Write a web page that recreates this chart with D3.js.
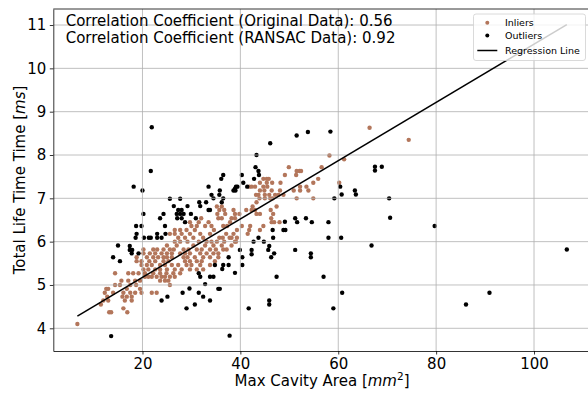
<!DOCTYPE html>
<html>
<head>
<meta charset="utf-8">
<script src="https://cdn.jsdelivr.net/npm/d3@7"></script>
<style>
  body { margin: 0; background: #fff; }
  svg text { font-family: "DejaVu Sans", sans-serif; }
</style>
</head>
<body>
<svg width="588" height="395"></svg>
<script>
// RANSAC inliers [max cavity area, total life time]
const inliers = [
  [6.7, 4.10],
  [13.2, 4.37], [13.6, 4.37], [16.9, 4.37],
  [16.1, 4.46],
  [11.5, 4.55],
  [12.0, 4.64], [13.0, 4.64], [16.4, 4.64], [17.8, 4.64],
  [12.8, 4.73], [15.9, 4.73], [16.8, 4.73], [17.8, 4.73],
  [12.3, 4.82], [14.0, 4.82], [16.1, 4.82], [17.5, 4.82], [18.5, 4.82], [19.8, 4.82], [21.9, 4.82], [22.9, 4.82],
  [12.6, 4.91], [13.0, 4.91], [16.8, 4.91], [19.5, 4.91],
  [14.4, 5.00], [15.4, 5.00], [17.5, 5.00], [18.7, 5.00], [25.6, 5.00],
  [15.7, 5.10], [17.1, 5.10], [18.5, 5.10], [19.5, 5.10], [23.6, 5.10], [24.6, 5.10], [25.3, 5.10],
  [20.5, 5.19], [21.2, 5.19], [21.9, 5.19], [22.9, 5.19], [23.9, 5.19], [24.6, 5.19], [25.6, 5.19], [26.6, 5.19],
  [14.4, 5.27], [17.1, 5.27], [18.1, 5.27], [19.2, 5.27], [20.5, 5.27], [22.2, 5.27], [23.6, 5.27], [24.9, 5.27], [26.3, 5.27], [27.7, 5.27],
  [20.2, 5.36], [21.2, 5.36], [22.6, 5.36], [23.6, 5.36], [25.0, 5.36], [26.6, 5.36], [28.0, 5.36], [29.7, 5.36], [31.1, 5.36], [32.4, 5.36],
  [19.8, 5.46], [20.9, 5.46], [21.9, 5.46], [23.6, 5.46], [24.6, 5.46], [26.0, 5.46], [27.3, 5.46], [29.0, 5.46], [30.0, 5.46], [31.8, 5.46], [33.8, 5.46],
  [18.8, 5.55], [19.8, 5.55], [21.4, 5.55], [22.6, 5.55], [24.3, 5.55], [25.3, 5.55], [28.7, 5.55], [29.7, 5.55], [31.1, 5.55], [32.1, 5.55], [34.8, 5.55],
  [18.8, 5.64], [20.9, 5.64], [22.2, 5.64], [23.2, 5.64], [24.3, 5.64], [25.0, 5.64], [26.0, 5.64], [28.4, 5.64], [29.2, 5.64], [30.7, 5.64], [32.4, 5.64], [33.8, 5.64], [35.5, 5.64],
  [20.2, 5.73], [21.5, 5.73], [22.6, 5.73], [23.9, 5.73], [25.0, 5.73], [26.0, 5.73], [27.7, 5.73], [28.7, 5.73], [29.7, 5.73], [31.8, 5.73], [33.1, 5.73], [34.5, 5.73], [35.5, 5.73],
  [20.2, 5.82], [22.2, 5.82], [23.0, 5.82], [24.3, 5.82], [25.6, 5.82], [26.4, 5.82], [28.4, 5.82], [29.4, 5.82], [31.1, 5.82], [32.1, 5.82], [33.8, 5.82], [35.0, 5.82], [36.5, 5.82], [37.2, 5.82],
  [25.0, 5.91], [27.0, 5.91], [30.4, 5.91], [32.8, 5.91], [34.5, 5.91], [36.2, 5.91], [38.2, 5.91],
  [26.6, 6.00], [27.7, 6.00], [29.2, 6.00], [31.5, 6.00], [33.1, 6.00], [34.1, 6.00], [35.2, 6.00], [36.7, 6.00], [38.9, 6.00], [39.1, 6.00],
  [27.3, 6.09], [28.7, 6.09], [30.4, 6.09], [32.4, 6.09], [35.7, 6.09], [36.4, 6.09], [37.8, 6.09], [38.2, 6.09], [39.3, 6.09],
  [25.6, 6.18], [26.6, 6.18], [28.0, 6.18], [29.7, 6.18], [31.8, 6.18], [33.8, 6.18], [37.1, 6.18], [38.6, 6.18], [41.5, 6.18],
  [26.6, 6.27], [27.7, 6.27], [29.0, 6.27], [30.7, 6.27], [34.6, 6.27], [39.3, 6.27], [41.8, 6.27], [44.0, 6.27],
  [30.0, 6.36], [31.1, 6.36], [32.8, 6.36], [34.1, 6.36], [36.5, 6.36], [37.3, 6.36], [40.3, 6.36], [42.0, 6.36], [44.7, 6.36],
  [29.7, 6.45], [31.5, 6.45], [33.5, 6.45], [37.9, 6.45], [46.4, 6.45], [46.9, 6.45], [48.0, 6.45],
  [32.0, 6.54], [35.5, 6.54], [36.2, 6.54], [38.2, 6.54], [38.9, 6.54], [46.3, 6.54],
  [35.3, 6.64], [36.9, 6.64], [38.9, 6.64], [39.8, 6.64], [43.3, 6.64], [44.0, 6.64], [46.7, 6.64],
  [35.7, 6.73], [36.7, 6.73], [38.6, 6.73], [41.2, 6.73], [42.3, 6.73], [43.0, 6.73], [46.2, 6.73],
  [35.2, 6.81], [36.2, 6.81], [42.5, 6.81], [47.4, 6.81],
  [43.3, 6.91],
  [43.9, 7.00], [45.0, 7.00], [46.1, 7.00], [46.6, 7.00], [51.5, 7.00], [54.9, 7.00],
  [43.2, 7.08], [43.7, 7.08], [45.0, 7.08], [45.9, 7.08], [47.1, 7.08], [47.8, 7.08], [48.8, 7.08],
  [44.0, 7.18], [44.9, 7.18], [46.4, 7.18], [48.1, 7.18], [50.9, 7.18], [52.2, 7.18], [53.9, 7.18],
  [41.8, 7.27], [42.3, 7.27], [43.0, 7.27], [44.7, 7.27], [45.5, 7.27], [52.2, 7.27], [53.5, 7.27],
  [44.0, 7.36], [45.4, 7.36], [46.5, 7.36], [48.2, 7.36], [54.9, 7.36], [60.2, 7.36],
  [44.7, 7.45], [45.4, 7.45], [45.8, 7.45], [55.9, 7.45],
  [49.1, 7.54], [51.4, 7.54],
  [51.5, 7.63], [52.1, 7.63], [52.4, 7.63],
  [49.9, 7.72], [56.6, 7.72],
  [61.2, 7.90], [58.2, 7.99], [74.4, 8.35], [66.4, 8.63]
];

// RANSAC outliers
const outliers = [
  [21.9, 8.64], [21.7, 7.63], [18.2, 7.27], [20.0, 7.18], [20.2, 6.64], [18.7, 6.36], [19.8, 6.36],
  [23.6, 6.54], [24.3, 6.64], [24.6, 6.36], [25.6, 6.99], [27.7, 6.99], [26.4, 6.82], [27.3, 6.73], [28.0, 6.73],
  [27.0, 6.64], [27.7, 6.64], [28.4, 6.64], [27.1, 6.54], [28.0, 6.54], [28.7, 6.45], [29.2, 6.82],
  [29.9, 6.64], [30.9, 6.54], [31.6, 6.91], [31.8, 6.82], [33.0, 6.91], [33.5, 6.73], [33.5, 7.27],
  [18.6, 6.09], [18.8, 6.18], [20.3, 6.09], [21.3, 6.09], [21.7, 6.09], [23.0, 6.18], [23.0, 6.09], [23.9, 6.09], [24.7, 6.18],
  [15.0, 5.91], [14.0, 5.64], [15.4, 5.55], [17.4, 5.90], [17.4, 5.81], [17.9, 5.81], [17.8, 5.73], [19.2, 5.73],
  [31.5, 5.27], [31.8, 5.19], [32.8, 5.02], [28.2, 4.82], [29.6, 4.92], [31.5, 4.82], [32.4, 4.73],
  [23.9, 4.64], [25.1, 4.73], [29.0, 4.46], [30.7, 4.55], [13.6, 3.82], [33.8, 4.64],
  [51.5, 8.45], [53.8, 8.53], [58.4, 8.54], [46.1, 8.27], [43.3, 8.00], [43.1, 7.72], [43.7, 7.63], [43.8, 7.54],
  [42.8, 7.45], [40.6, 7.36], [41.4, 7.27], [40.3, 7.54], [36.5, 7.54], [36.1, 7.45], [35.8, 7.18], [35.7, 7.08],
  [34.1, 7.08], [34.5, 7.00], [36.5, 7.00], [36.2, 6.91], [38.6, 7.18], [38.9, 7.22], [39.0, 7.18], [39.1, 7.27], [39.4, 7.27],
  [33.8, 6.73], [49.1, 6.46], [48.8, 6.27], [49.2, 6.27], [51.2, 6.54], [51.6, 6.45], [53.4, 6.54], [54.6, 6.45],
  [58.0, 6.45], [46.6, 6.27], [46.7, 6.09], [43.7, 6.09], [42.7, 6.00], [44.8, 6.00], [45.9, 5.90], [45.7, 5.81],
  [46.9, 5.73], [46.3, 5.64], [42.3, 5.81], [42.3, 5.71], [39.9, 5.81], [40.4, 5.64], [37.6, 5.64], [40.4, 5.46],
  [34.8, 5.46], [36.5, 5.46], [37.6, 5.46], [36.3, 5.37], [38.9, 5.28], [33.8, 5.19], [34.5, 5.19], [47.4, 5.19],
  [51.2, 5.81], [54.4, 5.73], [54.4, 5.64], [57.0, 5.19], [58.0, 6.09], [35.5, 4.91], [35.8, 4.91], [41.7, 4.46],
  [45.9, 4.64], [45.9, 4.55], [37.8, 3.83],
  [67.5, 7.73], [67.5, 7.64], [68.9, 7.73], [60.4, 7.27], [60.7, 7.09], [63.4, 7.18], [63.6, 7.09], [59.2, 7.00],
  [70.4, 7.00], [70.6, 6.55], [60.6, 6.09], [66.8, 5.91], [60.8, 4.82], [59.0, 4.46],
  [79.7, 6.36], [106.7, 5.82], [90.9, 4.82], [86.1, 4.55]
];

// fitted line (RANSAC)
const regSlope = 0.0673;
const regIntercept = 3.83;

const xTicks = [20, 40, 60, 80, 100];
const yTicks = [4, 5, 6, 7, 8, 9, 10, 11];
const titleLines = [
  "Correlation Coefficient (Original Data): 0.56",
  "Correlation Coefficient (RANSAC Data): 0.92"
];
const legendItems = ["Inliers", "Outliers", "Regression Line"];

const inlierColor = "#b3765b";

let svg = d3.select("svg"),
  plotLeft = 53.3, plotRight = 590.8, plotTop = 9, plotBottom = 351;

let x = d3.scaleLinear().domain([1.78, 111.6]).range([plotLeft, plotRight]),
  y = d3.scaleLinear().domain([3.476, 11.37]).range([plotBottom, plotTop]);

// points
svg.append("g").selectAll("circle")
  .data(inliers)
  .enter().append("circle")
  .attr("cx", d => x(d[0]))
  .attr("cy", d => y(d[1]))
  .attr("r", 2.2)
  .style("fill", inlierColor);

svg.append("g").selectAll("circle")
  .data(outliers)
  .enter().append("circle")
  .attr("cx", d => x(d[0]))
  .attr("cy", d => y(d[1]))
  .attr("r", 2.2)
  .style("fill", "#000");

// grid drawn above the points, as matplotlib does
let grid = svg.append("g").attr("stroke", "#b0b0b0").attr("stroke-width", 0.8);
grid.selectAll(".gx").data(xTicks).enter().append("line")
  .attr("x1", d => x(d)).attr("x2", d => x(d))
  .attr("y1", plotTop).attr("y2", plotBottom);
grid.selectAll(".gy").data(yTicks).enter().append("line")
  .attr("x1", plotLeft).attr("x2", plotRight)
  .attr("y1", d => y(d)).attr("y2", d => y(d));

// regression line
let allX = inliers.concat(outliers).map(d => d[0]);
let xr = d3.extent(allX);
let line = d3.line().x(d => x(d)).y(d => y(regIntercept + regSlope * d));
svg.append("path")
  .attr("d", line(xr))
  .attr("fill", "none")
  .attr("stroke", "#000")
  .attr("stroke-width", 1.5);

// axes
let xAxis = svg.append("g")
  .attr("transform", "translate(0," + plotBottom + ")")
  .call(d3.axisBottom(x).tickValues(xTicks).tickSize(3.5).tickSizeOuter(0).tickPadding(3.5));
let yAxis = svg.append("g")
  .attr("transform", "translate(" + plotLeft + ",0)")
  .call(d3.axisLeft(y).tickValues(yTicks).tickSize(3.5).tickSizeOuter(0).tickPadding(3.5));

[xAxis, yAxis].forEach(a => {
  a.selectAll("text").style("font-size", "15px").style("fill", "#000")
    .style("font-family", "'DejaVu Sans', sans-serif");
  a.selectAll("line").style("stroke", "#000").style("stroke-width", 0.8);
  a.select(".domain").style("stroke", "#000").style("stroke-width", 0.8);
});

svg.append("line")
  .attr("x1", plotLeft).attr("x2", plotRight)
  .attr("y1", plotTop).attr("y2", plotTop)
  .style("stroke", "#000").style("stroke-width", 0.8);

// axis labels
let xl = svg.append("text")
  .attr("x", (plotLeft + plotRight) / 2)
  .attr("y", 386)
  .attr("text-anchor", "middle")
  .style("font-size", "15px");
xl.append("tspan").text("Max Cavity Area [");
xl.append("tspan").style("font-style", "italic").text("mm");
xl.append("tspan").attr("dy", -6).style("font-size", "10.5px").text("2");
xl.append("tspan").attr("dy", 6).text("]");

let yl = svg.append("text")
  .attr("transform", "translate(25," + (plotTop + plotBottom) / 2 + ") rotate(-90)")
  .attr("text-anchor", "middle")
  .style("font-size", "15px");
yl.append("tspan").text("Total Life Time Time [");
yl.append("tspan").style("font-style", "italic").text("ms");
yl.append("tspan").text("]");

// correlation text
svg.selectAll(".title")
  .data(titleLines)
  .enter().append("text")
  .attr("x", 65.7)
  .attr("y", (d, i) => 26 + i * 17)
  .style("font-size", "15px")
  .text(d => d);

// legend
let legend = svg.append("g");
legend.append("rect")
  .attr("x", 473.5).attr("y", 14)
  .attr("width", 112).attr("height", 46.5)
  .attr("rx", 2.5)
  .style("fill", "#fff").style("fill-opacity", 0.8)
  .style("stroke", "#d0d0d0").style("stroke-width", 0.8);

let rowY = [22.7, 35.5, 50.5];
legend.append("circle").attr("cx", 487.3).attr("cy", rowY[0]).attr("r", 2).style("fill", inlierColor);
legend.append("circle").attr("cx", 487.3).attr("cy", rowY[1]).attr("r", 2).style("fill", "#000");
legend.append("line")
  .attr("x1", 477.3).attr("x2", 497.3)
  .attr("y1", rowY[2]).attr("y2", rowY[2])
  .style("stroke", "#000").style("stroke-width", 1.5);

legend.selectAll(".lt")
  .data(legendItems)
  .enter().append("text")
  .attr("x", 505)
  .attr("y", (d, i) => rowY[i])
  .attr("dy", "0.35em")
  .style("font-size", "9.5px")
  .text(d => d);
</script>
</body>
</html>
